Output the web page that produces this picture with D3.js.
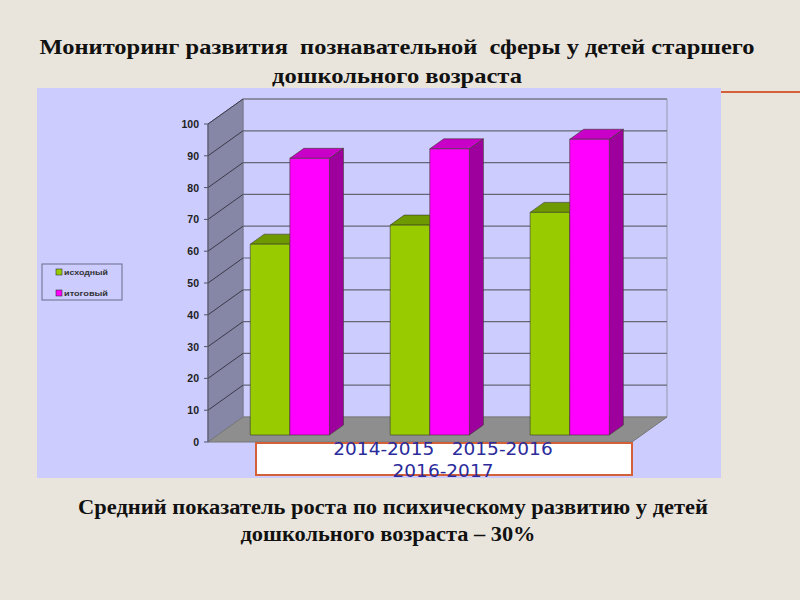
<!DOCTYPE html>
<html>
<head>
<meta charset="utf-8">
<script src="https://cdn.jsdelivr.net/npm/d3@7"></script>
<style>
body { margin: 0; background: #e9e5dd; }
svg { display: block; }
</style>
</head>
<body>
<div id="chart"></div>
<script>
var width = 800;
var height = 600;

var categories = ["2014-2015", "2015-2016", "2016-2017"];
var seriesNames = ["исходный", "итоговый"];
var startValues = [60, 66, 70];
var finalValues = [87, 90, 93];
var yTicks = [0, 10, 20, 30, 40, 50, 60, 70, 80, 90, 100];

var titleLines = ["Мониторинг развития  познавательной  сферы у детей старшего", "дошкольного возраста"];
var noteLines = ["Средний показатель роста по психическому развитию у детей", "дошкольного возраста – 30%"];

var colors = [
    { front: "#99cc00", top: "#6e9900", side: "#5f8400" },
    { front: "#ff00ff", top: "#c800c8", side: "#9e009e" }
];

var svg = d3.select("#chart")
    .append("svg")
    .attr("width", width)
    .attr("height", height);

// slide background + chart panel
svg.append("rect").attr("width", width).attr("height", height).attr("fill", "#e9e5dd");
svg.append("rect")
    .attr("x", 37).attr("y", 88).attr("width", 684).attr("height", 390)
    .attr("fill", "#ccccff");
svg.append("line")
    .attr("x1", 721).attr("x2", 800).attr("y1", 92).attr("y2", 92)
    .attr("stroke", "#d4603a").attr("stroke-width", 2);

// title (stretched like the slide text)
var titleLen = [715, 250];
svg.append("g").selectAll("text").data(titleLines).enter().append("text")
    .attr("x", function(d, i) { return 397 - titleLen[i] / 2 })
    .attr("y", function(d, i) { return 54 + i * 29 })
    .attr("xml:space", "preserve")
    .style("white-space", "pre")
    .attr("textLength", function(d, i) { return titleLen[i] })
    .attr("lengthAdjust", "spacingAndGlyphs")
    .attr("font-family", "Liberation Serif, Times New Roman, serif")
    .attr("font-weight", "bold")
    .attr("font-size", 21.5)
    .attr("fill", "#111")
    .text(function(d) { return d });

// 3d frame
var x0 = 208, x1 = 632;
var depth = { dx: 35, dy: -25 };
var y = d3.scaleLinear().domain([0, 100]).range([442, 124]);
var x = d3.scaleBand().domain(categories).range([x0, x1]).paddingInner(0.434).paddingOuter(0.232);
var xs = d3.scaleBand().domain(seriesNames).range([0, x.bandwidth()]);

var g = svg.append("g");

function pts(a) { return a.map(function(p) { return p.join(",") }).join(" ") }

// back wall
g.append("polygon")
    .attr("points", pts([[x0 + depth.dx, y(0) + depth.dy], [x1 + depth.dx, y(0) + depth.dy],
        [x1 + depth.dx, y(100) + depth.dy], [x0 + depth.dx, y(100) + depth.dy]]))
    .attr("fill", "#ccccff").attr("stroke", "#9a9aaa").attr("stroke-width", 1);
// left wall
g.append("polygon")
    .attr("points", pts([[x0, y(0)], [x0 + depth.dx, y(0) + depth.dy],
        [x0 + depth.dx, y(100) + depth.dy], [x0, y(100)]]))
    .attr("fill", "#8686a6").attr("stroke", "#77778f").attr("stroke-width", 1);

// grid lines
var grid = g.append("g").selectAll("g").data(yTicks.slice(1)).enter().append("g");
grid.append("line")
    .attr("x1", x0 + depth.dx).attr("x2", x1 + depth.dx)
    .attr("y1", function(d) { return y(d) + depth.dy })
    .attr("y2", function(d) { return y(d) + depth.dy })
    .attr("stroke", "#666677").attr("stroke-width", 1.2);
grid.append("line")
    .attr("x1", x0).attr("x2", x0 + depth.dx)
    .attr("y1", function(d) { return y(d) })
    .attr("y2", function(d) { return y(d) + depth.dy })
    .attr("stroke", "#3a3a4a").attr("stroke-width", 1);

// floor
g.append("polygon")
    .attr("points", pts([[x0, y(0)], [x1, y(0)], [x1 + depth.dx, y(0) + depth.dy], [x0 + depth.dx, y(0) + depth.dy]]))
    .attr("fill", "#8e8e8e").attr("stroke", "#777777").attr("stroke-width", 1);

// axis
g.append("line").attr("x1", x0).attr("x2", x0).attr("y1", y(0)).attr("y2", y(100))
    .attr("stroke", "#555566").attr("stroke-width", 1);
var ticks = g.append("g").selectAll("g").data(yTicks).enter().append("g");
ticks.append("line")
    .attr("x1", x0 - 4).attr("x2", x0)
    .attr("y1", function(d) { return y(d) }).attr("y2", function(d) { return y(d) })
    .attr("stroke", "#555566");
ticks.append("text")
    .attr("x", x0 - 9)
    .attr("y", function(d) { return y(d) + 4 })
    .attr("text-anchor", "end")
    .attr("font-family", "Liberation Sans, Arial, sans-serif")
    .attr("font-weight", "bold")
    .attr("font-size", 10.5)
    .attr("fill", "#222")
    .text(function(d) { return d });

// bars
var k0 = 0.28, k1 = 0.68;
var fx = depth.dx * k0, fy = depth.dy * k0;
var bx = depth.dx * (k1 - k0), by = depth.dy * (k1 - k0);

var barData = [];
categories.forEach(function(c, i) {
    barData.push({ cat: c, s: 0, v: startValues[i] });
    barData.push({ cat: c, s: 1, v: finalValues[i] });
});

var bars = g.append("g").selectAll("g").data(barData).enter().append("g")
    .attr("stroke", "#3a3a2a").attr("stroke-width", 0.6).attr("stroke-linejoin", "round");

function bl(d) { return x(d.cat) + xs(seriesNames[d.s]) + fx }
function br(d) { return bl(d) + xs.bandwidth() }
function bt(d) { return y(d.v) + fy }
function bb(d) { return y(0) + fy }

bars.append("polygon")
    .attr("points", function(d) {
        return pts([[br(d), bb(d)], [br(d) + bx, bb(d) + by], [br(d) + bx, bt(d) + by], [br(d), bt(d)]])
    })
    .attr("fill", function(d) { return colors[d.s].side });
bars.append("polygon")
    .attr("points", function(d) {
        return pts([[bl(d), bt(d)], [br(d), bt(d)], [br(d) + bx, bt(d) + by], [bl(d) + bx, bt(d) + by]])
    })
    .attr("fill", function(d) { return colors[d.s].top });
bars.append("rect")
    .attr("x", bl).attr("y", bt)
    .attr("width", xs.bandwidth())
    .attr("height", function(d) { return bb(d) - bt(d) })
    .attr("fill", function(d) { return colors[d.s].front });

// category label box
svg.append("rect")
    .attr("x", 256).attr("y", 443).attr("width", 376).attr("height", 32)
    .attr("fill", "#ffffff").attr("stroke", "#d4603a").attr("stroke-width", 2);
var catLines = [categories[0] + "   " + categories[1], categories[2]];
svg.append("g").selectAll("text").data(catLines).enter().append("text")
    .attr("x", 443)
    .attr("y", function(d, i) { return 455 + i * 22 })
    .attr("text-anchor", "middle")
    .attr("xml:space", "preserve")
    .style("white-space", "pre")
    .attr("font-family", "DejaVu Sans, sans-serif")
    .attr("font-size", 18.5)
    .attr("fill", "#2b2b9c")
    .text(function(d) { return d });

// legend
var legend = svg.append("g");
legend.append("rect")
    .attr("x", 42).attr("y", 264).attr("width", 80).attr("height", 36)
    .attr("fill", "#ccccff").attr("stroke", "#6a6a8a").attr("stroke-width", 1);
var li = legend.selectAll("g").data(seriesNames).enter().append("g")
    .attr("transform", function(d, i) { return "translate(56," + (269 + i * 21) + ")" });
li.append("rect").attr("width", 6).attr("height", 6)
    .attr("fill", function(d, i) { return colors[i].front })
    .attr("stroke", "#333").attr("stroke-width", 0.6);
li.append("text")
    .attr("x", 8).attr("y", 6)
    .attr("textLength", 44)
    .attr("lengthAdjust", "spacingAndGlyphs")
    .attr("font-family", "Liberation Sans, Arial, sans-serif")
    .attr("font-weight", "bold")
    .attr("font-size", 7.5)
    .attr("fill", "#333")
    .text(function(d) { return d });

// note under chart
var noteLen = [630, 295];
var noteMid = [393, 388];
svg.append("g").selectAll("text").data(noteLines).enter().append("text")
    .attr("x", function(d, i) { return noteMid[i] - noteLen[i] / 2 })
    .attr("y", function(d, i) { return 514 + i * 27 })
    .attr("textLength", function(d, i) { return noteLen[i] })
    .attr("lengthAdjust", "spacingAndGlyphs")
    .attr("font-family", "Liberation Serif, Times New Roman, serif")
    .attr("font-weight", "bold")
    .attr("font-size", 20)
    .attr("fill", "#111")
    .text(function(d) { return d });
</script>
</body>
</html>
